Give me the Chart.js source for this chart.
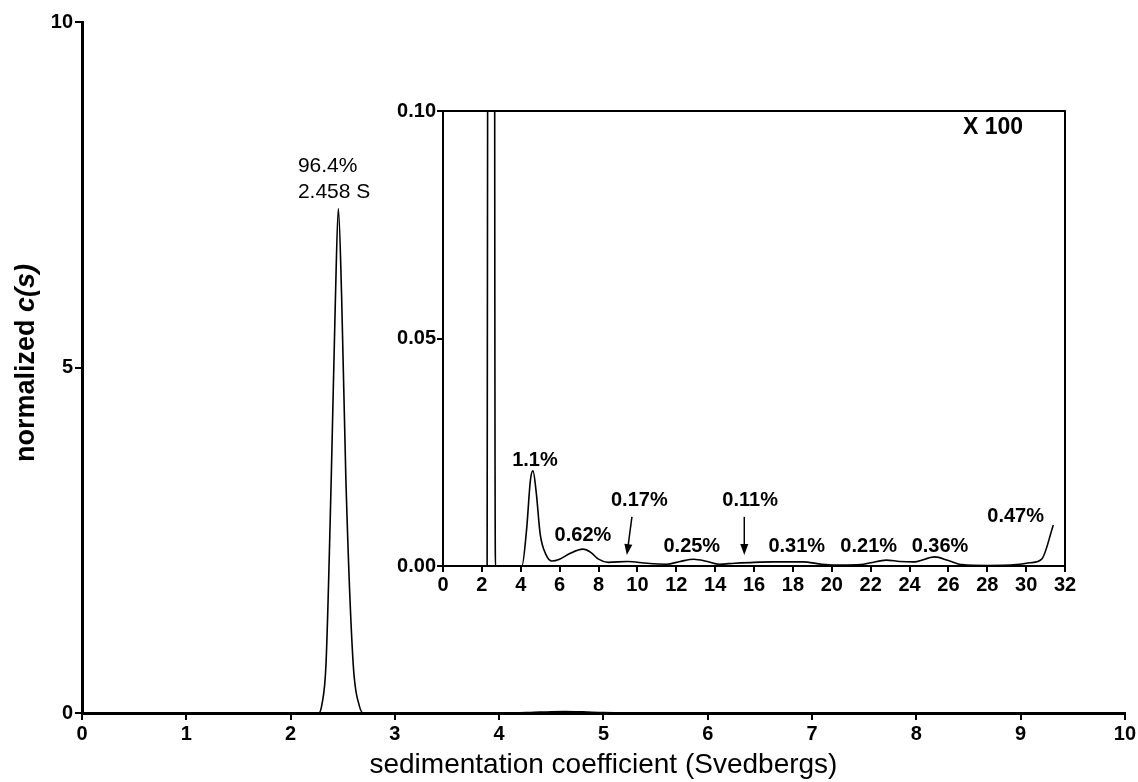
<!DOCTYPE html>
<html>
<head>
<meta charset="utf-8">
<script src="https://cdn.jsdelivr.net/npm/chart.js@4/dist/chart.umd.min.js"></script>
<style>
  html, body { margin: 0; padding: 0; background: #fff; }
  #wrap { position: relative; width: 1138px; height: 782px; }
  #mainChart { position: absolute; left: 0; top: 0; }
  #insetChart { position: absolute; left: 380px; top: 95px; }
</style>
</head>
<body>
<div id="wrap">
  <canvas id="mainChart" width="1138" height="782"></canvas>
  <canvas id="insetChart" width="700" height="510"></canvas>
</div>
<script>
// c(s) distribution
const sValues = [0, 1, 2, 2.2, 2.27, 2.30, 2.34, 2.39, 2.43, 2.458, 2.49, 2.53, 2.60, 2.66, 2.70,
    3, 4, 4.06, 4.3, 4.5, 4.63, 4.8, 5.0, 5.3, 5.6, 6.0, 6.5, 7.2, 7.6, 8.0, 8.5, 9.5,
    10.5, 11.5, 12.2, 12.9, 13.6, 14.2, 15, 16, 17, 18.5, 19.5, 20.5, 21.5, 22, 22.8,
    23.5, 24.2, 25.3, 26, 26.7, 28, 29.5, 30.2, 30.8, 31.4];
const cValues = [0, 0, 0, 0, 0, 0.12, 0.72, 3.4, 6.0, 7.3, 6.0, 3.4, 0.72, 0.1, 0,
    0, 0, 0, 0.008, 0.019, 0.0209, 0.016, 0.007, 0.0025, 0.0011, 0.0015, 0.0027, 0.0037, 0.0030, 0.0015, 0.0008, 0.0010,
    0.0006, 0.0004, 0.0010, 0.0015, 0.0010, 0.0004, 0.0006, 0.0008, 0.0009, 0.0009, 0.0004, 0.0002, 0.0003, 0.0007, 0.0013,
    0.0010, 0.0009, 0.0020, 0.0012, 0.0003, 0.0001, 0.0003, 0.0007, 0.0015, 0.0090];

// main peak label
const mainNotes = ['96.4%', '2.458 S'];
const mainNoteX = [2.07, 2.07];
const mainNoteY = [7.91, 7.54];

// inset labels
const insetNotes = ['1.1%', '0.62%', '0.17%', '0.25%', '0.11%', '0.31%', '0.21%', '0.36%', '0.47%'];
const insetNoteX = [4.73, 7.2, 10.1, 12.8, 15.8, 18.2, 21.9, 25.57, 29.46];
const insetNoteY = [0.0231, 0.0068, 0.0143, 0.0042, 0.0143, 0.0042, 0.0042, 0.0042, 0.0108];
const arrowTopX = [9.72, 15.5];
const arrowBottomX = [9.46, 15.5];
const arrowTopY = 0.0108;
const arrowBottomY = 0.0024;

const points = sValues.map((s, i) => ({ x: s, y: cValues[i] }));
const plain = "'Liberation Sans', Arial, sans-serif";
const tickFont = { family: plain, size: 20, weight: 'bold' };

function axisStyle(opts) {
    return Object.assign({
        type: 'linear',
        ticks: { color: '#000', font: tickFont, padding: 2 },
        grid: { display: true, drawOnChartArea: false, color: '#000', lineWidth: 2, tickLength: 7 },
        border: { color: '#000', width: 3 }
    }, opts);
}

// draw y title with italic c(s) + peak label
const mainDecor = {
    id: 'mainDecor',
    afterDraw(chart) {
        const ctx = chart.ctx;
        const x = chart.scales.x, y = chart.scales.y;
        ctx.save();
        ctx.fillStyle = '#000';
        ctx.font = '21px ' + plain;
        ctx.textAlign = 'left';
        ctx.textBaseline = 'middle';
        mainNotes.forEach((t, i) => {
            ctx.fillText(t, x.getPixelForValue(mainNoteX[i]), y.getPixelForValue(mainNoteY[i]));
        });
        // y axis title
        ctx.translate(27, 363);
        ctx.rotate(-Math.PI / 2);
        const p1 = 'normalized ', p2 = 'c(s)';
        ctx.font = 'bold 27px ' + plain;
        const w1 = ctx.measureText(p1).width;
        ctx.font = 'italic bold 27px ' + plain;
        const w2 = ctx.measureText(p2).width;
        const cx = -(w1 + w2) / 2;
        ctx.font = 'bold 27px ' + plain;
        ctx.fillText(p1, cx, 0);
        ctx.font = 'italic bold 27px ' + plain;
        ctx.fillText(p2, cx + w1, 0);
        ctx.restore();
    }
};

const insetDecor = {
    id: 'insetDecor',
    afterDraw(chart) {
        const ctx = chart.ctx;
        const x = chart.scales.x, y = chart.scales.y;
        const a = chart.chartArea;
        ctx.save();
        ctx.strokeStyle = '#000';
        ctx.lineWidth = 2;
        ctx.strokeRect(a.left, a.top, a.right - a.left, a.bottom - a.top);
        ctx.fillStyle = '#000';
        ctx.font = 'bold 20px ' + plain;
        ctx.textAlign = 'center';
        ctx.textBaseline = 'middle';
        insetNotes.forEach((t, i) => {
            ctx.fillText(t, x.getPixelForValue(insetNoteX[i]), y.getPixelForValue(insetNoteY[i]));
        });
        ctx.font = 'bold 23px ' + plain;
        ctx.fillText('X 100', x.getPixelForValue(28.3), y.getPixelForValue(0.0963));
        // arrows
        ctx.lineWidth = 1.5;
        arrowTopX.forEach((tx, i) => {
            const x0 = x.getPixelForValue(tx), y0 = y.getPixelForValue(arrowTopY);
            const x1 = x.getPixelForValue(arrowBottomX[i]), y1 = y.getPixelForValue(arrowBottomY);
            const ang = Math.atan2(y1 - y0, x1 - x0);
            ctx.beginPath();
            ctx.moveTo(x0, y0);
            ctx.lineTo(x1 - 8 * Math.cos(ang), y1 - 8 * Math.sin(ang));
            ctx.stroke();
            ctx.beginPath();
            ctx.moveTo(x1, y1);
            ctx.lineTo(x1 - 11 * Math.cos(ang) + 4 * Math.sin(ang), y1 - 11 * Math.sin(ang) - 4 * Math.cos(ang));
            ctx.lineTo(x1 - 11 * Math.cos(ang) - 4 * Math.sin(ang), y1 - 11 * Math.sin(ang) + 4 * Math.cos(ang));
            ctx.closePath();
            ctx.fill();
        });
        ctx.restore();
    }
};

const lineSet = {
    data: points,
    borderColor: '#000',
    borderWidth: 1.6,
    pointRadius: 0,
    cubicInterpolationMode: 'monotone',
    clip: 0
};

new Chart(document.getElementById('mainChart'), {
    type: 'line',
    data: { datasets: [Object.assign({}, lineSet)] },
    options: {
        responsive: false,
        animation: false,
        layout: { padding: { top: 22, right: 11, left: 0, bottom: 0 } },
        plugins: { legend: { display: false }, tooltip: { enabled: false } },
        scales: {
            x: axisStyle({
                min: 0, max: 10,
                ticks: { stepSize: 1, color: '#000', font: tickFont, padding: 2 },
                title: { display: true, text: 'sedimentation coefficient (Svedbergs)', color: '#000',
                    font: { family: plain, size: 28 }, padding: { top: 0, bottom: 0 } },
                afterFit(s) { s.height = 69; }
            }),
            y: axisStyle({
                min: 0, max: 10,
                ticks: { stepSize: 5, color: '#000', font: tickFont, padding: 2 },
                afterFit(s) { s.width = 82; }
            })
        }
    },
    plugins: [mainDecor]
});

new Chart(document.getElementById('insetChart'), {
    type: 'line',
    data: { datasets: [Object.assign({}, lineSet)] },
    options: {
        responsive: false,
        animation: false,
        layout: { padding: { top: 16, right: 15, left: 0, bottom: 0 } },
        plugins: { legend: { display: false }, tooltip: { enabled: false } },
        scales: {
            x: axisStyle({
                min: 0, max: 32,
                ticks: { stepSize: 2, color: '#000', font: tickFont, padding: 1 },
                grid: { display: true, drawOnChartArea: false, color: '#000', lineWidth: 2, tickLength: 6 },
                border: { color: '#000', width: 2 },
                afterFit(s) { s.height = 39; }
            }),
            y: axisStyle({
                min: 0, max: 0.1,
                ticks: { stepSize: 0.05, color: '#000', font: tickFont, padding: 1,
                    callback: v => v.toFixed(2) },
                grid: { display: true, drawOnChartArea: false, color: '#000', lineWidth: 2, tickLength: 6 },
                border: { color: '#000', width: 2 },
                afterFit(s) { s.width = 63; }
            })
        }
    },
    plugins: [insetDecor]
});
</script>
</body>
</html>
